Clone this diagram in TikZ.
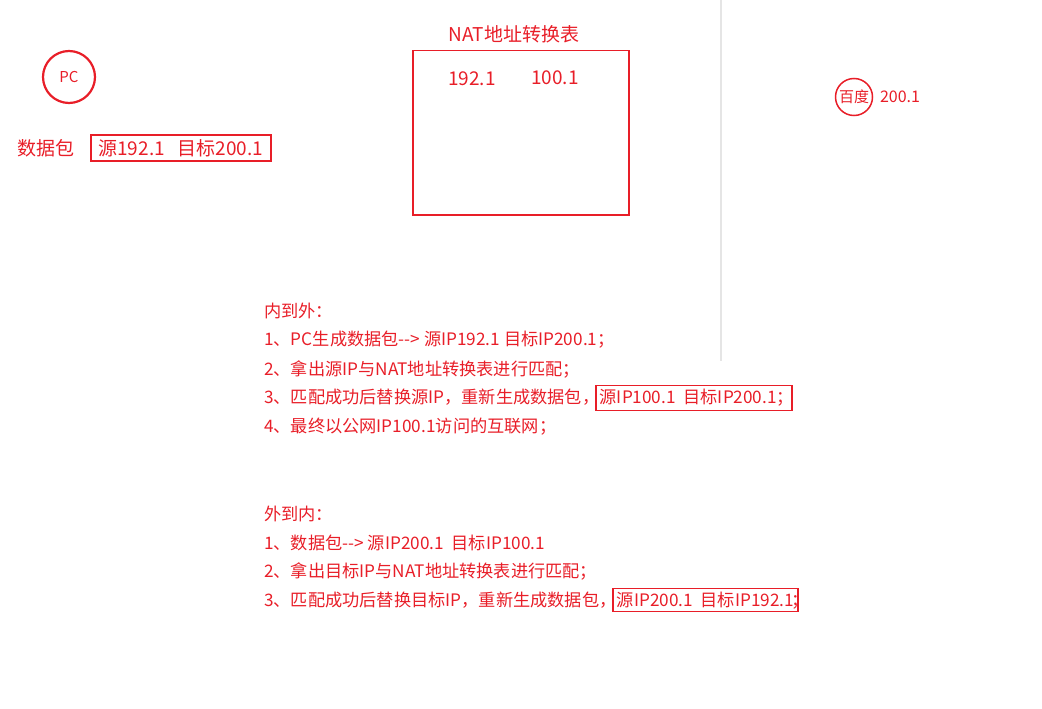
\documentclass[tikz,border=0pt]{standalone}
\usepackage{fontspec}
\setmainfont{Noto Sans CJK SC}
\definecolor{nr}{RGB}{232,30,40}
\newcommand{\bx}[1]{{\setlength{\fboxsep}{3pt}\setlength{\fboxrule}{1.5pt}\fbox{#1}}}
\begin{document}
\begin{tikzpicture}[x=1pt,y=-1pt,
  txt/.style={anchor=west,inner sep=0pt,text=nr,font=\fontsize{17.2}{20}\selectfont},
  sm/.style={text=nr,font=\fontsize{15}{18}\selectfont,inner sep=0pt}]
\useasboundingbox (0,0) rectangle (1042,709);
\draw[gray!20,line width=1.5pt] (721,0) -- (721,361);
\node[draw=nr,line width=2.2pt,circle,minimum size=52pt,sm] (pc) at (69,77) {PC};
\node[txt,font=\fontsize{19}{22}\selectfont] (pkt) at (17,148) {数据包};
\node[draw=nr,line width=1.5pt,anchor=west,minimum width=180pt,minimum height=26pt,inner sep=0pt,text=nr,font=\fontsize{19}{22}\selectfont] (src) at (90,148) {源192.1\ \ \ 目标200.1};
\node[sm,font=\fontsize{19}{22}\selectfont] (title) at (514,34) {NAT地址转换表};
\node[draw=nr,line width=1.5pt,minimum width=216pt,minimum height=164pt,anchor=north west,inner sep=0pt] (tbl) at (412,50) {};
\node[sm,font=\fontsize{19}{22}\selectfont] (a) at (472,79) {192.1};
\node[sm,font=\fontsize{19}{22}\selectfont] (b) at (555,78) {100.1};
\node[draw=nr,line width=1.5pt,circle,minimum size=37pt,sm] (bd) at (854,97) {百度};
\node[sm,font=\fontsize{16}{18}\selectfont] (bip) at (900,97) {200.1};
\node[txt] (l0) at (264,311) {内到外：};
\node[txt] (l1) at (264,340) {1、PC生成数据包-{}-> 源IP192.1 目标IP200.1；};
\node[txt] (l2) at (264,369) {2、拿出源IP与NAT地址转换表进行匹配；};
\node[txt] (l3) at (264,398) {3、匹配成功后替换源IP，重新生成数据包，\hspace{-4pt}\color{nr}\bx{源IP100.1\ \ 目标IP200.1；\hspace{-6pt}}};
\node[txt] (l4) at (264,427) {4、最终以公网IP100.1访问的互联网；};
\node[txt] (m0) at (264,514) {外到内：};
\node[txt] (m1) at (264,543) {1、数据包-{}-> 源IP200.1\ \ 目标IP100.1};
\node[txt] (m2) at (264,571) {2、拿出目标IP与NAT地址转换表进行匹配；};
\node[txt] (m3) at (264,600) {3、匹配成功后替换目标IP，重新生成数据包，\hspace{-4pt}\color{nr}\bx{源IP200.1\ \ 目标IP192.1}\hspace{-7pt}；};
\end{tikzpicture}
\end{document}
